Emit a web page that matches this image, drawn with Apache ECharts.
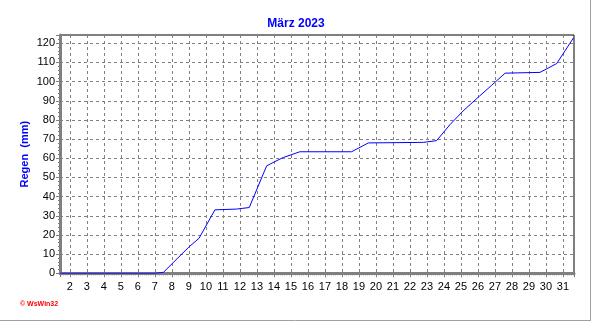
<!DOCTYPE html>
<html>
<head>
<meta charset="utf-8">
<script src="https://cdn.jsdelivr.net/npm/echarts@6/dist/echarts.min.js"></script>
<style>
html,body{margin:0;padding:0;background:#fff;}
#chart{width:592px;height:321px;}
</style>
</head>
<body>
<div id="chart"></div>
<script>
// Cumulative rain, March 2023 (day of month as decimal, mm)
const days = [1.42, 7.0, 7.5, 9.0, 9.6, 10.53, 11.8, 12.55, 13.57, 14.0, 14.55, 15.53, 18.57, 19.55, 22.8, 23.57, 24.35, 25.13, 26.1, 26.8, 27.6, 29.65, 30.63, 31.62];
const rain = [0, 0, 0.5, 13.7, 18.3, 33.1, 33.5, 34.3, 56, 58, 60.4, 63.4, 63.4, 68, 68.3, 69.2, 77.5, 84.7, 92.5, 98, 104.4, 104.8, 109.4, 122.8];
const titleText = 'März 2023';
const yName = 'Regen  (mm)';
const credit = '© WsWin32';
const xMin = 1.42, xMax = 31.65;
const yMin = 0, yMax = 124.3, yStep = 10;

const chart = echarts.init(document.getElementById('chart'), null, {renderer: 'canvas'});
const font = 'Liberation Sans, Arial, sans-serif';
chart.setOption({
  animation: false,
  backgroundColor: '#fff',
  title: {
    text: titleText, left: 'center', top: 13,
    textStyle: {color: '#0000ff', fontSize: 12, fontWeight: 'bold', fontFamily: font}
  },
  grid: {
    left: 60, right: 18, top: 35, bottom: 47.7,
    show: true, borderColor: '#000', borderWidth: 1, backgroundColor: 'transparent'
  },
  xAxis: {
    type: 'value', min: xMin, max: xMax, splitNumber: 30, minInterval: 1, maxInterval: 1,
    axisLine: {show: true, onZero: false, lineStyle: {color: '#808080', width: 3}},
    axisTick: {show: true, length: 4, inside: false, lineStyle: {color: '#808080'}},
    minorTick: {show: true, splitNumber: 8, length: 2, lineStyle: {color: '#808080'}},
    axisLabel: {color: '#000', fontSize: 11, fontFamily: font, margin: 8, showMinLabel: false, showMaxLabel: false},
    splitLine: {show: true, lineStyle: {color: '#808080', type: [3, 3], width: 1}}
  },
  yAxis: {
    type: 'value', min: yMin, max: yMax, interval: yStep,
    name: yName, nameLocation: 'middle', nameGap: 30, nameRotate: 90, nameMoveOverlap: false,
    nameTextStyle: {color: '#0000ff', fontSize: 11, fontWeight: 'bold', fontFamily: font},
    axisLine: {show: true, lineStyle: {color: '#808080', width: 3}},
    axisTick: {show: true, length: 4, lineStyle: {color: '#808080'}},
    minorTick: {show: true, splitNumber: 5, length: 2, lineStyle: {color: '#808080'}},
    axisLabel: {color: '#000', fontSize: 11, fontFamily: font, margin: 5, showMaxLabel: false},
    splitLine: {show: true, lineStyle: {color: '#808080', type: [3, 3], width: 1}}
  },
  graphic: [
    {type: 'text', left: 20, top: 301, style: {text: credit, fill: '#ff0000', font: 'bold 7px ' + font}},
    {type: 'line', shape: {x1: 590.5, y1: 0, x2: 590.5, y2: 320.5}, style: {stroke: '#a0a0a0', lineWidth: 1}},
    {type: 'line', shape: {x1: 0, y1: 320.5, x2: 591, y2: 320.5}, style: {stroke: '#a0a0a0', lineWidth: 1}}
  ],
  series: [{
    type: 'line', data: days.map((d, i) => [d, rain[i]]),
    showSymbol: false, symbol: 'none', clip: true,
    lineStyle: {color: '#0000ff', width: 1}
  }]
});
</script>
</body>
</html>
